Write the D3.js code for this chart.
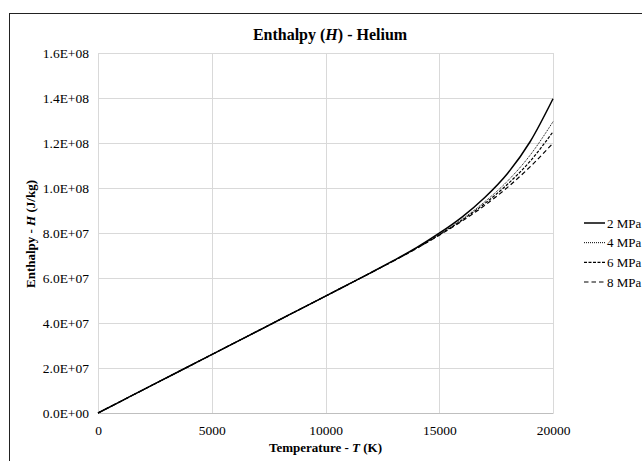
<!DOCTYPE html>
<html>
<head>
<meta charset="utf-8">
<script src="https://cdn.jsdelivr.net/npm/d3@7"></script>
<style>
  html, body { margin: 0; padding: 0; background: #fff; }
  svg { display: block; }
  text { font-family: "Liberation Serif", "Times New Roman", serif; fill: #000; }
</style>
</head>
<body>
<svg id="chart" width="642" height="461"></svg>
<script>
// Temperature grid (K)
const temperatures = [0, 1000, 2000, 3000, 4000, 5000, 6000, 7000, 8000, 9000, 10000,
  11000, 12000, 13000, 14000, 15000, 16000, 17000, 18000, 19000, 20000];

// Specific enthalpy of helium (J/kg) at each pressure
const h2MPa = [0, 5.19e6, 1.039e7, 1.558e7, 2.077e7, 2.597e7, 3.116e7, 3.635e7, 4.154e7, 4.674e7, 5.193e7,
  5.717e7, 6.242e7, 6.781e7, 7.350e7, 7.990e7, 8.709e7, 9.578e7, 1.0647e8, 1.2067e8, 1.3966e8];
const h4MPa = [0, 5.19e6, 1.039e7, 1.558e7, 2.077e7, 2.597e7, 3.116e7, 3.635e7, 4.154e7, 4.674e7, 5.193e7,
  5.715e7, 6.239e7, 6.771e7, 7.330e7, 7.940e7, 8.609e7, 9.388e7, 1.0307e8, 1.1467e8, 1.2946e8];
const h6MPa = [0, 5.19e6, 1.039e7, 1.558e7, 2.077e7, 2.597e7, 3.116e7, 3.635e7, 4.154e7, 4.674e7, 5.193e7,
  5.714e7, 6.237e7, 6.766e7, 7.320e7, 7.920e7, 8.569e7, 9.308e7, 1.0167e8, 1.1197e8, 1.2496e8];
const h8MPa = [0, 5.19e6, 1.039e7, 1.558e7, 2.077e7, 2.597e7, 3.116e7, 3.635e7, 4.154e7, 4.674e7, 5.193e7,
  5.713e7, 6.236e7, 6.761e7, 7.310e7, 7.900e7, 8.529e7, 9.228e7, 1.0027e8, 1.0947e8, 1.1996e8];

const seriesNames = ["2 MPa", "4 MPa", "6 MPa", "8 MPa"];
const seriesValues = [h2MPa, h4MPa, h6MPa, h8MPa];

const xTicks = [0, 5000, 10000, 15000, 20000];
const yTicks = [0, 2e7, 4e7, 6e7, 8e7, 1e8, 1.2e8, 1.4e8, 1.6e8];

// Line styling per series
const strokeDash = ["none", "1,1", "3,1.5", "4.5,3"];
const strokeWidth = [1.5, 1, 1.2, 1.2];

const svg = d3.select("#chart");

// Outer chart frame
svg.append("rect")
  .attr("x", 9.5).attr("y", 13.5)
  .attr("width", 700).attr("height", 500)
  .attr("fill", "none").attr("stroke", "#222").attr("stroke-width", 1);

const plot = { left: 98, right: 553, top: 53, bottom: 413 };

const x = d3.scaleLinear().domain([0, 20000]).range([plot.left, plot.right]);
const y = d3.scaleLinear().domain([0, 1.6e8]).range([plot.bottom, plot.top]);

// Scientific label like 1.6E+08
function sci(v) {
  if (v === 0) return "0.0E+00";
  const e = Math.floor(Math.log10(Math.abs(v)));
  const m = v / Math.pow(10, e);
  const sign = e < 0 ? "-" : "+";
  return m.toFixed(1) + "E" + sign + String(Math.abs(e)).padStart(2, "0");
}

// Gridlines
const grid = svg.append("g");
grid.selectAll(".hg").data(yTicks).join("line")
  .attr("x1", plot.left).attr("x2", plot.right)
  .attr("y1", d => Math.round(y(d)) + 0.5).attr("y2", d => Math.round(y(d)) + 0.5)
  .attr("stroke", "#d9d9d9").attr("stroke-width", 1);
grid.selectAll(".vg").data(xTicks).join("line")
  .attr("x1", d => Math.round(x(d)) + 0.5).attr("x2", d => Math.round(x(d)) + 0.5)
  .attr("y1", plot.top).attr("y2", plot.bottom)
  .attr("stroke", "#d9d9d9").attr("stroke-width", 1);

// Axes (labels only; lines come from the grid)
const xAxis = svg.append("g")
  .attr("transform", `translate(0,${plot.bottom})`)
  .call(d3.axisBottom(x).tickValues(xTicks).tickSize(0).tickPadding(12).tickFormat(d3.format("d")));
xAxis.select(".domain").attr("stroke", "#bfbfbf");
xAxis.selectAll("text").style("font-family", "Liberation Serif").style("font-size", "13.5px").attr("fill", "#000");

const yAxis = svg.append("g")
  .attr("transform", `translate(${plot.left},0)`)
  .call(d3.axisLeft(y).tickValues(yTicks).tickSize(0).tickPadding(9).tickFormat(sci));
yAxis.select(".domain").attr("stroke", "#d9d9d9");
yAxis.selectAll("text").style("font-family", "Liberation Serif").style("font-size", "13.5px").attr("fill", "#000");

// Series lines
const line = d3.line()
  .x((d, i) => x(temperatures[i]))
  .y(d => y(d))
  .curve(d3.curveMonotoneX);

svg.append("g").selectAll("path").data(seriesValues).join("path")
  .attr("d", d => line(d))
  .attr("fill", "none")
  .attr("stroke", "#000")
  .attr("stroke-width", (d, i) => strokeWidth[i])
  .attr("stroke-dasharray", (d, i) => strokeDash[i]);

// Title
const title = svg.append("text")
  .attr("x", 330).attr("y", 40)
  .attr("text-anchor", "middle")
  .style("font-size", "16px").style("font-weight", "bold");
title.append("tspan").text("Enthalpy (");
title.append("tspan").style("font-style", "italic").text("H");
title.append("tspan").text(") - Helium");

// Axis titles
const xt = svg.append("text")
  .attr("x", (plot.left + plot.right) / 2).attr("y", 452)
  .attr("text-anchor", "middle")
  .style("font-size", "13px").style("font-weight", "bold");
xt.append("tspan").text("Temperature - ");
xt.append("tspan").style("font-style", "italic").text("T");
xt.append("tspan").text(" (K)");

const yt = svg.append("text")
  .attr("transform", "translate(35,234) rotate(-90)")
  .attr("text-anchor", "middle")
  .style("font-size", "13px").style("font-weight", "bold");
yt.append("tspan").text("Enthalpy - ");
yt.append("tspan").style("font-style", "italic").text("H");
yt.append("tspan").text(" (J/kg)");

// Legend
const legend = svg.append("g");
const rowY = d3.scaleLinear().domain([0, 3]).range([223, 282]);
seriesNames.forEach((name, i) => {
  const g = legend.append("g").attr("transform", `translate(0,${rowY(i)})`);
  g.append("line")
    .attr("x1", 584).attr("x2", 605).attr("y1", 0).attr("y2", 0)
    .attr("stroke", "#000")
    .attr("stroke-width", strokeWidth[i])
    .attr("stroke-dasharray", strokeDash[i]);
  g.append("text")
    .attr("x", 607).attr("y", 0).attr("dy", "0.35em")
    .style("font-size", "13px")
    .text(name);
});
</script>
</body>
</html>
